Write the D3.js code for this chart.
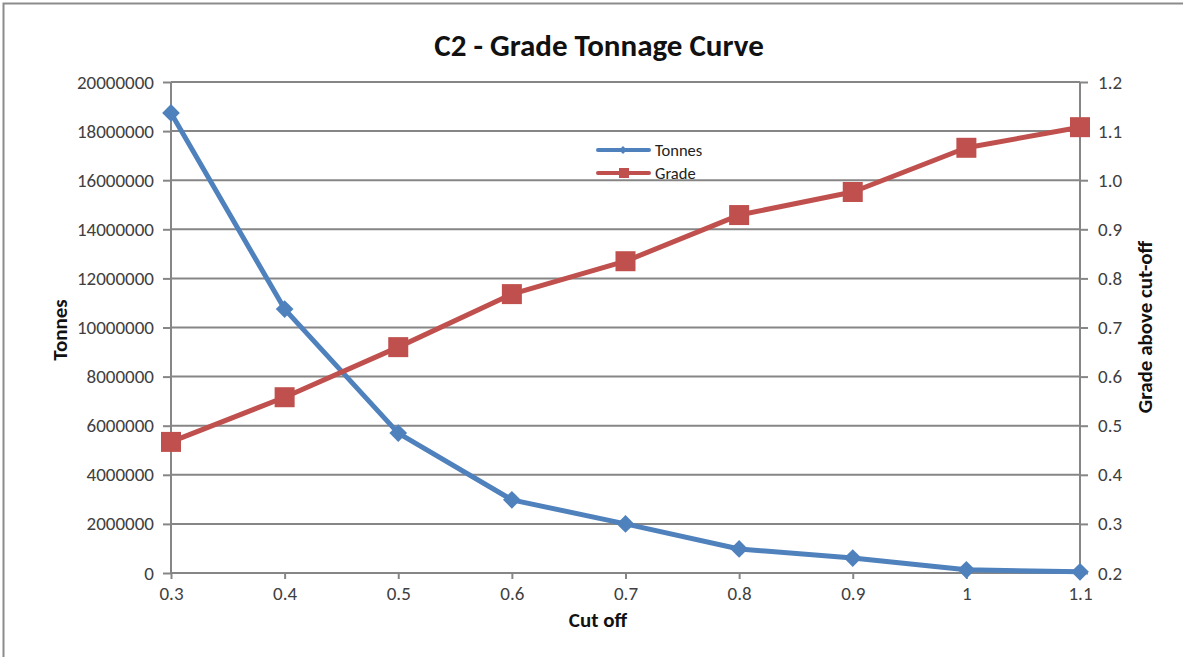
<!DOCTYPE html>
<html><head><meta charset="utf-8">
<script src="https://cdn.jsdelivr.net/npm/d3@7"></script>
<style>body{margin:0;background:#fff}svg{display:block;font-family:Calibri,Carlito,"Open Sans",sans-serif}</style>
</head><body><svg id="c" width="1183" height="657"></svg>
<script>
const cutoffs = [0.3,0.4,0.5,0.6,0.7,0.8,0.9,1.0,1.1];
const xTickLabels = ["0.3","0.4","0.5","0.6","0.7","0.8","0.9","1","1.1"];
const tonnes = [18740000,10750000,5700000,2980000,2000000,980000,610000,130000,50000];
const grade = [0.467,0.558,0.660,0.768,0.835,0.929,0.976,1.066,1.108];
const leftTicks = [0,2000000,4000000,6000000,8000000,10000000,12000000,14000000,16000000,18000000,20000000];
const rightTicks = [0.2,0.3,0.4,0.5,0.6,0.7,0.8,0.9,1.0,1.1,1.2];
const seriesNames = ["Tonnes","Grade"];
const colors = ["#4F81BD","#C0504D"];

const svg = d3.select("#c");
const L=171,R=1080,T=82,B=573;
const grid="#868686";
const FF='Calibri,Carlito,"Open Sans",sans-serif';
svg.append("rect").attr("x",3.5).attr("y",3.5).attr("width",1300).attr("height",800).attr("fill","none").attr("stroke","#8c8c8c").attr("stroke-width",2);

const x = d3.scaleLinear().domain([0.3,1.1]).range([L,R]);
const yL = d3.scaleLinear().domain([0,20000000]).range([B,T]);
const yR = d3.scaleLinear().domain([0.2,1.2]).range([B,T]);

svg.append("g").selectAll("line").data(leftTicks).join("line")
  .attr("x1",L).attr("x2",R).attr("y1",d=>yL(d)).attr("y2",d=>yL(d))
  .attr("stroke",grid).attr("stroke-width",2);

const fs="19px";
const gl = svg.append("g").attr("transform",`translate(${L},0)`)
  .call(d3.axisLeft(yL).tickValues(leftTicks).tickSize(8).tickPadding(9).tickFormat(d=>String(d)));
const gr = svg.append("g").attr("transform",`translate(${R},0)`)
  .call(d3.axisRight(yR).tickValues(rightTicks).tickSize(8).tickPadding(10).tickFormat(d3.format(".1f")));
const gb = svg.append("g").attr("transform",`translate(0,${B})`)
  .call(d3.axisBottom(x).tickValues(cutoffs).tickSize(6).tickPadding(8).tickFormat((d,i)=>xTickLabels[i]));
[gl,gr,gb].forEach(g=>{
  g.selectAll("path.domain").attr("stroke",grid).attr("stroke-width",2);
  g.selectAll(".tick line").attr("stroke",grid).attr("stroke-width",2);
  g.selectAll("text").attr("fill","#404040").style("font-size",fs).style("font-family",FF);
});
gl.select("path.domain").attr("d",`M0,${B}V${T}`);
gr.select("path.domain").attr("d",`M0,${B}V${T}`);
gb.select("path.domain").attr("d",`M${L},0H${R}`);

const lineT = d3.line().x((d,i)=>x(cutoffs[i])).y(d=>yL(d));
const lineG = d3.line().x((d,i)=>x(cutoffs[i])).y(d=>yR(d));
svg.append("path").datum(tonnes).attr("d",lineT).attr("fill","none").attr("stroke",colors[0]).attr("stroke-width",5).attr("stroke-linejoin","round");
svg.append("path").datum(grade).attr("d",lineG).attr("fill","none").attr("stroke",colors[1]).attr("stroke-width",5).attr("stroke-linejoin","round");
const diamond = d3.symbol().type(d3.symbolDiamond2).size(200);
svg.append("g").selectAll("path").data(tonnes).join("path")
  .attr("transform",(d,i)=>`translate(${x(cutoffs[i])},${yL(d)})`).attr("d",diamond).attr("fill",colors[0]);
svg.append("g").selectAll("rect").data(grade).join("rect")
  .attr("x",(d,i)=>x(cutoffs[i])-10).attr("y",d=>yR(d)-10).attr("width",20).attr("height",20).attr("fill",colors[1]);

const lg = svg.append("g");
seriesNames.forEach((n,i)=>{
  const yy = 150 + i*23;
  lg.append("line").attr("x1",598).attr("x2",649).attr("y1",yy).attr("y2",yy).attr("stroke",colors[i]).attr("stroke-width",4).attr("stroke-linecap","round");
  if(i===0) lg.append("path").attr("transform",`translate(623,${yy})`).attr("d",d3.symbol().type(d3.symbolDiamond2).size(40)).attr("fill",colors[i]);
  else lg.append("rect").attr("x",619).attr("y",yy-5).attr("width",10).attr("height",10).attr("fill",colors[i]);
  lg.append("text").attr("x",655).attr("y",yy+5.5).text(n).style("font-size","16.5px").style("font-family",FF).attr("fill","#222");
});

svg.append("text").attr("x",599).attr("y",56).attr("text-anchor","middle").style("font-size","31px").style("font-weight","bold").style("font-family",FF).attr("fill","#111").text("C2 - Grade Tonnage Curve");
svg.append("text").attr("x",598).attr("y",627).attr("text-anchor","middle").style("font-size","21px").style("font-weight","bold").style("font-family",FF).attr("fill","#111").text("Cut off");
svg.append("text").attr("transform","translate(67,330) rotate(-90)").attr("text-anchor","middle").style("font-size","21px").style("font-weight","bold").style("font-family",FF).attr("fill","#111").text("Tonnes");
svg.append("text").attr("transform","translate(1152,327) rotate(-90)").attr("text-anchor","middle").style("font-size","21px").style("font-weight","bold").style("font-family",FF).attr("fill","#111").text("Grade above cut-off");
</script></body></html>
